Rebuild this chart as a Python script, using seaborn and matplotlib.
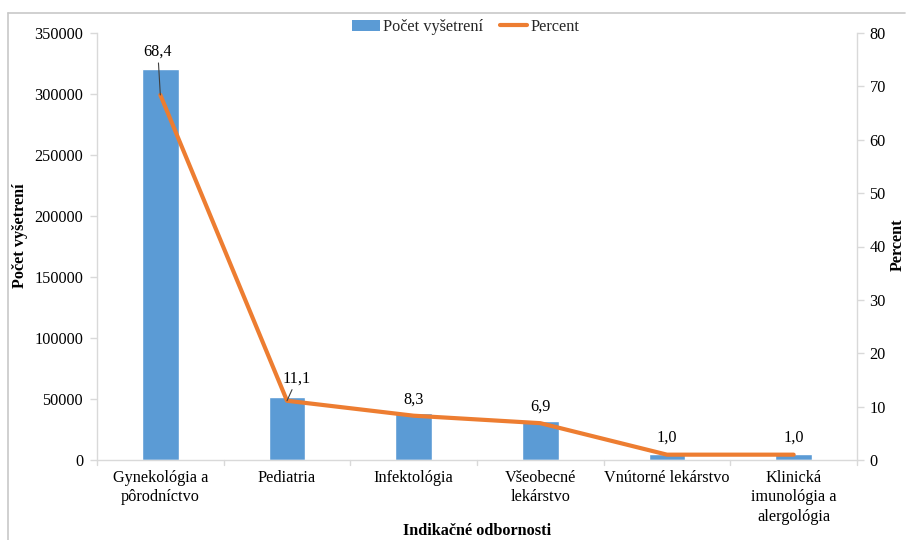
import matplotlib
matplotlib.use("Agg")
import matplotlib.pyplot as plt
import seaborn as sns
import pandas as pd
from matplotlib.lines import Line2D
from matplotlib.patches import Patch

categories = ["Gynekológia a\npôrodníctvo", "Pediatria", "Infektológia",
              "Všeobecné\nlekárstvo", "Vnútorné lekárstvo",
              "Klinická\nimunológia a\nalergológia"]
counts = [320500, 52000, 38800, 32300, 4700, 4600]
percent = [68.4, 11.1, 8.3, 6.9, 1.0, 1.0]
percent_labels = ["68,4", "11,1", "8,3", "6,9", "1,0", "1,0"]
left_ticks = [0, 50000, 100000, 150000, 200000, 250000, 300000, 350000]
right_ticks = [0, 10, 20, 30, 40, 50, 60, 70, 80]

sns.set_theme(style="white")
plt.rcParams['font.family'] = ['Liberation Serif', 'DejaVu Serif']

BLUE = "#5B9BD5"
ORANGE = "#ED7D31"
GRAY = "#D9D9D9"
TXT = "#000000"
FS = 11.7

df = pd.DataFrame({"cat": categories, "count": counts, "pct": percent})

fig = plt.figure(figsize=(9.06, 5.4), dpi=100)
ax = fig.add_axes([97/906, 1-460/540, (857-97)/906, (460-33)/540])

sns.barplot(data=df, x="cat", y="count", color=BLUE, width=0.29,
            saturation=1, ax=ax)
ax.set_xlim(-0.5, 5.5)
ax.set_ylim(0, 350000)
ax.set_yticks(left_ticks)
ax.set_yticklabels([str(t) for t in left_ticks], fontsize=FS, color=TXT)
ax.set_xticks(range(len(categories)))
ax.set_xticklabels(categories, fontsize=FS, color=TXT, linespacing=1.3)
ax.tick_params(axis='x', length=0, pad=7)
ax.tick_params(axis='y', length=5, color=GRAY, width=1, pad=5, left=True)
# category boundary ticks
for b in [i - 0.5 for i in range(len(categories) + 1)]:
    ax.plot([b, b], [0, -0.012], transform=ax.get_xaxis_transform(),
            color=GRAY, lw=1, clip_on=False)
ax.set_xlabel("")
ax.set_ylabel("")
for s in ["top", "right"]:
    ax.spines[s].set_visible(False)
for s in ["left", "bottom"]:
    ax.spines[s].set_color(GRAY)
    ax.spines[s].set_linewidth(1)

ax2 = ax.twinx()
sns.lineplot(x=list(range(len(categories))), y=percent, color=ORANGE,
             lw=3, ax=ax2, sort=False)
ax2.set_ylim(0, 80)
ax2.set_yticks(right_ticks)
ax2.set_yticklabels([str(t) for t in right_ticks], fontsize=FS, color=TXT)
ax2.tick_params(axis='y', length=5, color=GRAY, width=1, pad=4, right=True)
ax2.set_ylabel("")
for s in ["top", "left", "bottom"]:
    ax2.spines[s].set_visible(False)
ax2.spines["right"].set_color(GRAY)
ax2.spines["right"].set_linewidth(1)

# axis titles
fig.text(20/906, 1-236/540, "Počet vyšetrení", rotation=90, ha='center',
         va='center', fontsize=FS, fontweight='bold', color=TXT)
fig.text(898/906, 1-245/540, "Percent", rotation=90, ha='center',
         va='center', fontsize=FS, fontweight='bold', color=TXT)
fig.text(477/906, 1-531/540, "Indikačné odbornosti", ha='center',
         va='center', fontsize=FS, fontweight='bold', color=TXT)

# data labels
ax2.annotate(percent_labels[0], xy=(0, percent[0]), xytext=(-0.02, 75.0),
             ha='center', va='bottom', fontsize=FS, color=TXT,
             arrowprops=dict(arrowstyle='-', color='#404040', lw=0.8,
                             shrinkA=0, shrinkB=0))
ax2.annotate(percent_labels[1], xy=(1, percent[1]), xytext=(1.08, 13.8),
             ha='center', va='bottom', fontsize=FS, color=TXT,
             arrowprops=dict(arrowstyle='-', color='#404040', lw=0.8,
                             shrinkA=0, shrinkB=0))
for i in range(2, len(categories)):
    ax2.text(i, percent[i] + 1.6, percent_labels[i], ha='center',
             va='bottom', fontsize=FS, color=TXT)

handles = [Patch(facecolor=BLUE, edgecolor='none', label="Počet vyšetrení"),
           Line2D([0], [0], color=ORANGE, lw=3, label="Percent")]
fig.legend(handles=handles, loc='center', bbox_to_anchor=(466/906, 1-27/540),
           ncol=2, frameon=False, fontsize=FS, handlelength=1.7,
           handleheight=0.7, columnspacing=1.0, handletextpad=0.2)

# outer border (top and left)
fig.add_artist(Line2D([8/906, 905/906], [1-13/540, 1-13/540],
                      transform=fig.transFigure, color="#C8C8C8", lw=1.2))
fig.add_artist(Line2D([8/906, 8/906], [0, 1-13/540],
                      transform=fig.transFigure, color="#C8C8C8", lw=1.2))

fig.savefig("out.png", dpi=100)
